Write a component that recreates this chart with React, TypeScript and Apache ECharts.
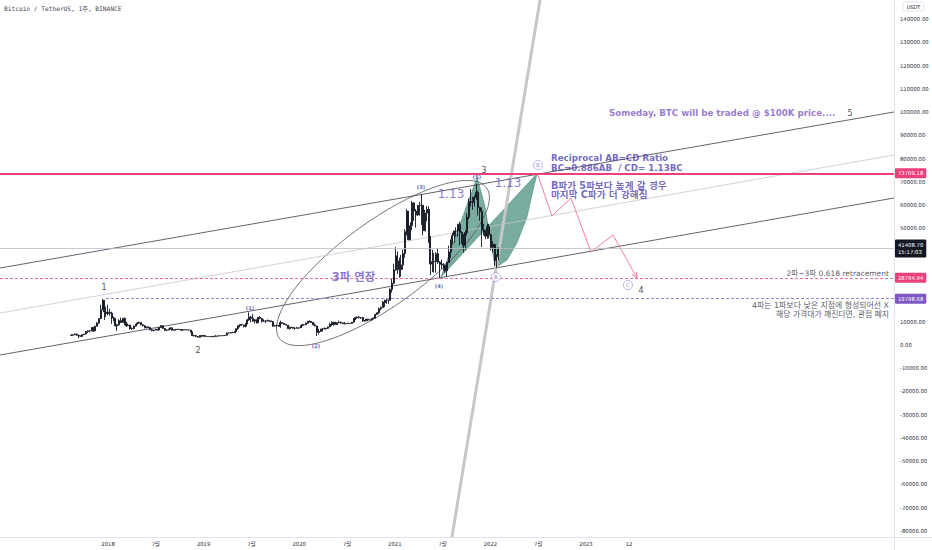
import React, { useEffect, useRef } from 'react';
import * as echarts from 'echarts';

const FONT = "'DejaVu Sans', 'Noto Sans CJK KR', sans-serif";
const MONO = "'DejaVu Sans Mono', 'Noto Sans CJK KR', monospace";

// ---------- axes ----------
const X_MIN = 2016.87;
const X_MAX = 2026.222;
const Y_MIN = -82578;
const Y_MAX = 148165;
const X_TICK_VALUES = [2018, 2018.5, 2019, 2019.5, 2020, 2020.5, 2021, 2021.5, 2022, 2022.5, 2023, 2023.45];
const X_TICK_LABELS = ['2018', '7월', '2019', '7월', '2020', '7월', '2021', '7월', '2022', '7월', '2023', '12'];
// 40000 and 20000 are hidden behind the price boxes in the reference
const Y_TICK_VALUES = [
  -80000, -70000, -60000, -50000, -40000, -30000, -20000, -10000, 0, 10000, 30000,
  50000, 60000, 70000, 80000, 90000, 100000, 110000, 120000, 130000, 140000,
];

// ---------- weekly BTCUSDT candles (thousands of USDT), first week starts 2017-08-14 ----------
const FIRST_WEEK_UTC = Date.UTC(2017, 7, 14);
const FIRST_OPEN_K = 4.26;
const CLOSE_K = [
  // 2017
  4.09, 4.31, 4.59, 4.10, 3.70, 3.63, 4.38, 4.61, 5.71, 6.01, 5.93, 7.36, 5.95, 8.00, 9.35, 11.25, 15.17, 19.10, 14.10, 13.40,
  // 2018
  14.00, 13.60, 11.50, 11.40, 8.20, 8.60, 10.40, 9.60, 11.40, 9.50, 8.20, 8.50, 6.90, 7.00, 8.00, 8.90, 9.30, 9.60,
  8.60, 8.20, 7.35, 7.70, 7.50, 6.45, 6.15, 6.35, 6.75, 6.35, 7.40, 8.20, 7.00, 6.30, 6.40, 6.70, 7.30, 6.25, 6.50,
  6.70, 6.60, 6.55, 6.30, 6.45, 6.40, 6.40, 6.35, 5.60, 3.95, 4.00, 3.55, 3.25, 4.00, 3.70, 4.05,
  // 2019
  3.60, 3.55, 3.53, 3.41, 3.65, 3.60, 3.75, 3.85, 3.90, 3.95, 3.98, 4.10, 5.05, 5.05, 5.30, 5.20, 5.75, 6.95, 8.20,
  8.70, 8.55, 7.95, 8.90, 10.70, 11.90, 11.30, 10.20, 10.75, 9.50, 11.80, 11.30, 10.20, 10.15, 10.30, 10.40, 10.30,
  10.00, 8.05, 8.20, 8.30, 7.95, 9.55, 9.20, 8.80, 8.50, 7.00, 7.40, 7.50, 7.10, 7.15, 7.25, 7.35,
  // 2020
  8.10, 8.65, 8.60, 9.30, 10.15, 9.90, 9.65, 8.55, 8.05, 5.35, 5.80, 5.90, 6.80, 6.90, 7.10, 7.70, 8.90, 8.70, 9.70,
  8.70, 9.45, 9.65, 9.35, 9.30, 9.00, 9.05, 9.25, 9.18, 9.70, 11.10, 11.70, 11.90, 11.65, 11.70, 10.25, 10.35, 11.10,
  10.75, 10.65, 11.40, 11.50, 13.00, 13.75, 15.50, 16.05, 18.40, 18.20, 19.15, 19.15, 23.80, 26.50, 32.20,
  // 2021
  38.20, 36.00, 32.30, 34.30, 39.25, 48.60, 57.40, 45.20, 51.20, 61.00, 57.50, 55.80, 59.00, 59.90, 60.00, 49.00,
  56.60, 58.20, 46.40, 34.70, 35.70, 35.80, 39.10, 35.50, 34.70, 34.70, 34.25, 31.80, 35.40, 39.90, 44.60, 47.00,
  48.90, 48.90, 51.80, 48.30, 47.30, 42.70, 48.20, 54.90, 61.50, 61.30, 61.30, 63.30, 65.50, 59.00, 57.30, 49.40,
  48.40, 46.70, 50.80, 47.30,
  // 2022
  41.90, 43.10, 36.30, 37.90, 41.41,
];
const HIGH_K = [
  // 2017
  4.49, 4.45, 4.94, 4.79, 4.40, 4.10, 4.41, 4.65, 5.86, 6.15, 6.17, 7.60, 7.80, 8.10, 9.70, 11.50, 17.20, 19.80, 19.20, 16.50,
  // 2018
  17.25, 15.50, 14.20, 12.20, 11.50, 9.00, 10.95, 11.70, 11.50, 11.70, 9.90, 9.20, 8.60, 7.50, 8.25, 8.95, 9.75, 9.99,
  9.70, 8.90, 8.40, 7.80, 7.80, 7.60, 6.85, 6.50, 6.90, 6.80, 7.60, 8.50, 8.30, 7.20, 6.60, 6.90, 7.40, 7.40, 6.60,
  6.80, 6.80, 6.70, 6.70, 6.75, 6.60, 6.55, 6.60, 6.35, 5.60, 4.40, 4.20, 3.60, 4.20, 4.20, 4.10,
  // 2019
  4.10, 3.75, 3.65, 3.55, 3.70, 3.70, 4.20, 3.95, 3.95, 4.05, 4.05, 4.15, 5.35, 5.30, 5.35, 5.65, 5.90, 7.05, 8.40,
  8.90, 9.07, 8.60, 9.40, 11.20, 13.97, 12.40, 13.20, 11.10, 10.90, 11.90, 12.35, 11.50, 10.95, 10.60, 10.90, 10.45,
  10.30, 10.10, 8.50, 8.80, 8.40, 10.37, 9.60, 9.50, 9.00, 8.50, 7.85, 7.80, 7.60, 7.50, 7.70, 7.50,
  // 2020
  8.45, 9.00, 8.80, 9.60, 10.15, 10.50, 10.25, 9.90, 9.20, 8.20, 6.90, 6.95, 7.20, 7.45, 7.30, 7.80, 9.45, 10.05, 9.90,
  9.90, 9.75, 10.40, 9.95, 9.60, 9.80, 9.25, 9.45, 9.35, 9.85, 11.40, 12.10, 12.10, 12.45, 11.75, 12.05, 10.60, 11.20,
  11.00, 10.95, 11.50, 11.75, 13.35, 14.05, 15.95, 16.40, 18.80, 19.40, 19.90, 19.40, 24.30, 28.40, 34.80,
  // 2021
  41.95, 40.10, 37.45, 38.60, 40.95, 49.70, 58.35, 57.55, 52.65, 61.85, 60.60, 58.40, 60.20, 61.40, 64.85, 57.20,
  58.00, 59.60, 59.50, 46.70, 40.80, 39.50, 39.80, 41.30, 36.00, 36.60, 35.10, 34.50, 35.40, 42.60, 45.30, 48.15,
  49.00, 50.50, 52.00, 52.90, 48.85, 47.50, 49.20, 56.60, 62.90, 67.00, 63.70, 64.30, 69.00, 66.30, 59.30, 59.00,
  51.95, 49.50, 52.10, 52.00,
  // 2022
  47.60, 44.50, 43.50, 38.90, 41.95,
];
const LOW_K = [
  // 2017
  3.85, 3.90, 4.28, 3.90, 2.82, 3.50, 3.60, 4.15, 4.55, 5.10, 5.40, 5.90, 5.50, 5.95, 7.90, 8.90, 11.10, 14.90, 10.70, 12.00,
  // 2018
  12.75, 12.50, 9.03, 10.10, 7.80, 6.00, 8.20, 9.35, 9.40, 8.40, 7.70, 8.00, 6.60, 6.45, 6.60, 7.85, 8.70, 9.10,
  8.35, 7.90, 7.05, 7.10, 7.35, 6.30, 5.80, 5.78, 6.30, 6.10, 6.30, 7.40, 6.90, 6.00, 5.88, 6.20, 6.70, 6.10, 6.20,
  6.10, 6.40, 6.45, 6.00, 6.25, 6.35, 6.25, 6.30, 5.30, 3.80, 3.50, 3.40, 3.16, 3.20, 3.55, 3.65,
  // 2019
  3.50, 3.48, 3.48, 3.35, 3.38, 3.55, 3.60, 3.70, 3.70, 3.80, 3.95, 3.95, 4.10, 4.90, 5.00, 5.00, 5.20, 5.60, 6.40,
  7.50, 8.30, 7.45, 7.50, 8.90, 10.30, 9.65, 9.90, 9.10, 9.10, 9.40, 11.00, 9.50, 9.75, 9.35, 10.10, 9.95,
  9.70, 7.70, 7.80, 7.80, 7.90, 7.30, 8.90, 8.60, 8.40, 6.80, 6.50, 7.20, 7.00, 6.45, 7.10, 6.85,
  // 2020
  7.30, 8.10, 8.25, 8.55, 9.10, 9.60, 9.40, 8.40, 8.00, 3.78, 4.50, 5.70, 5.85, 6.75, 6.50, 6.80, 7.60, 8.10, 8.20,
  8.60, 8.60, 9.30, 9.10, 9.20, 8.80, 8.95, 9.05, 9.10, 9.15, 9.65, 10.60, 11.15, 11.30, 11.10, 9.90, 9.90, 10.20,
  10.15, 10.40, 10.55, 11.20, 11.40, 12.80, 13.25, 14.85, 15.95, 16.20, 17.60, 17.60, 19.00, 22.40, 26.00,
  // 2021
  31.80, 30.40, 28.85, 29.25, 32.30, 37.40, 47.00, 44.90, 45.00, 49.30, 53.20, 50.40, 55.30, 55.50, 51.50, 47.10,
  48.80, 53.00, 43.80, 30.00, 31.30, 31.00, 31.00, 34.80, 28.80, 32.70, 32.00, 31.00, 29.30, 35.20, 37.30, 43.00,
  43.80, 46.40, 46.50, 42.80, 43.40, 39.60, 40.80, 47.00, 53.90, 59.50, 58.00, 59.40, 62.30, 55.60, 53.30, 42.00,
  47.00, 45.50, 45.60, 45.70,
  // 2022
  40.60, 39.65, 34.00, 32.95, 36.25,
];

// ---------- horizontal levels ----------
const RESISTANCE_LEVEL = 73709.18;
const CURRENT_PRICE = 41408.7;
const COUNTDOWN = '15:17:03';
const RETRACE_LEVEL = 28794.94;
const WAVE1_LEVEL = 19798.68;
const WAVE1_LEVEL_START_YEAR = 2017.979;

// ---------- trend channel (year, price pairs) ----------
const CHANNEL_YEARS = [X_MIN, X_MAX];
const CHANNEL_UPPER = [33000, 100035];
const CHANNEL_MIDDLE = [13660, 81560];
const CHANNEL_LOWER = [-4380, 63080];
const STEEP_LINE_YEARS = [2021.598, 2022.519];
const STEEP_LINE_PRICES = [Y_MIN, Y_MAX];

// ---------- ellipse round wave 3 (major axis ends and one minor-axis end) ----------
const ELLIPSE_AXIS_YEARS = [2019.793, 2021.959];
const ELLIPSE_AXIS_PRICES = [2819, 67480];
const ELLIPSE_WIDTH_YEAR = 2021.135;
const ELLIPSE_WIDTH_PRICE = 20548;

// ---------- AB=CD pattern fill ----------
const PATTERN_YEARS = [2021.483, 2021.86, 2021.94, 2022.05, 2022.174, 2022.278, 2022.383, 2022.446, 2022.49];
const PATTERN_PRICES = [29130, 72000, 60070, 33000, 36440, 43740, 54920, 66520, 73709];

// ---------- projected zigzag ----------
const ZIGZAG_YEARS = [2022.49, 2022.644, 2022.843, 2023.052, 2023.282, 2023.533];
const ZIGZAG_PRICES = [73709, 55345, 63080, 39876, 47181, 28795];

// ---------- labels ----------
const WAVE_TEXTS = ['1', '2', '3', '4', '5'];
const WAVE_YEARS = [2017.958, 2018.941, 2021.933, 2023.575, 2025.761];
const WAVE_PRICES = [24837, -2234, 75112, 23548, 99604];

const SUBWAVE_TEXTS = ['(1)', '(2)', '(3)', '(4)', '(5)'];
const SUBWAVE_YEARS = [2019.485, 2020.175, 2021.274, 2021.462, 2021.86];
const SUBWAVE_PRICES = [15813, -516, 67807, 25266, 72104];

const POINT_TEXTS = ['B', 'A', 'C'];
const POINT_YEARS = [2022.498, 2022.058, 2023.439];
const POINT_PRICES = [77260, 29134, 25696];

const NOTE_TEXTS = [
  'Someday, BTC will be traded @ $100K price....',
  'Reciprocal AB=CD Ratio',
  'BC=0.886AB  / CD= 1.13BC',
  'B파가 5파보다 높게 갈 경우',
  '마지막 C파가 더 강해짐',
  '1.13',
  '1.13',
  '3파 연장',
  '2파~3파 0.618 retracement',
  '4파는 1파보다 낮은 지점에 형성되어선 X',
  '해당 가격대가 깨진다면, 관점 폐지',
];
const NOTE_YEARS = [2023.24, 2022.634, 2022.634, 2022.634, 2022.634, 2021.588, 2022.184, 2020.568, 2026.169, 2026.169, 2026.169];
const NOTE_PRICES = [99604, 80268, 76186, 68666, 64584, 64799, 69527, 29134, 30637, 16887, 13020];

const NOTE_STYLES: any[] = [
  { position: 'right', fontSize: 8.7, color: '#7e57c2', fontWeight: 'bold' },
  { position: 'right', fontSize: 8.7, color: '#4f43ad', fontWeight: 'bold' },
  { position: 'right', fontSize: 8.7, color: '#4f43ad', fontWeight: 'bold' },
  { position: 'right', fontSize: 9.6, color: '#4f43ad', fontWeight: 'bold' },
  { position: 'right', fontSize: 9.6, color: '#4f43ad', fontWeight: 'bold' },
  { position: 'inside', fontSize: 12, color: '#7052c6' },
  { position: 'inside', fontSize: 12, color: '#7052c6' },
  { position: 'inside', fontSize: 11.5, color: '#6c55c9', fontWeight: 'bold' },
  { position: 'left', fontSize: 7.5, color: '#2a2e39' },
  { position: 'left', fontSize: 7.9, color: '#2a2e39' },
  { position: 'left', fontSize: 7.8, color: '#2a2e39' },
];

function weekYear(i: number): number {
  const t = FIRST_WEEK_UTC + i * 7 * 86400000;
  const y = new Date(t).getUTCFullYear();
  const s = Date.UTC(y, 0, 1);
  const e = Date.UTC(y + 1, 0, 1);
  return y + (t - s) / (e - s);
}

function buildOption(): any {
  const candles = CLOSE_K.map((c, i) => [
    weekYear(i),
    (i === 0 ? FIRST_OPEN_K : CLOSE_K[i - 1]) * 1000,
    c * 1000,
    LOW_K[i] * 1000,
    HIGH_K[i] * 1000,
  ]);

  const lineSeries = (prices: number[], color: string, width: number, extra: any = {}) => ({
    type: 'line',
    data: CHANNEL_YEARS.map((x, i) => [x, prices[i]]),
    showSymbol: false,
    symbol: 'none',
    silent: true,
    clip: true,
    z: 2,
    lineStyle: { color, width },
    ...extra,
  });

  const levelLabel = {
    show: true,
    position: 'end',
    distance: 1,
    color: '#ffffff',
    fontSize: 5.3,
    fontFamily: FONT,
    padding: [1.5, 3, 1.5, 3],
    borderRadius: 1,
    lineHeight: 7,
  };

  const markLine = {
    symbol: ['none', 'none'],
    silent: true,
    animation: false,
    label: levelLabel,
    data: [
      {
        yAxis: CURRENT_PRICE,
        lineStyle: { color: '#b8bcc6', width: 0.8, type: 'solid' },
        label: {
          ...levelLabel,
          padding: [2, 3, 2, 3],
          formatter: CURRENT_PRICE.toFixed(2) + '\n' + COUNTDOWN,
          backgroundColor: '#131722',
        },
      },
      {
        yAxis: RETRACE_LEVEL,
        lineStyle: { color: '#f06292', width: 0.9, type: [3, 2] },
        label: { ...levelLabel, formatter: RETRACE_LEVEL.toFixed(2), backgroundColor: '#ec407a' },
      },
      [
        {
          coord: [WAVE1_LEVEL_START_YEAR, WAVE1_LEVEL],
          lineStyle: { color: '#9575cd', width: 0.9, type: [3, 2] },
          label: { ...levelLabel, formatter: WAVE1_LEVEL.toFixed(2), backgroundColor: '#7e57c2' },
        },
        { coord: [X_MAX, WAVE1_LEVEL] },
      ],
      {
        yAxis: RESISTANCE_LEVEL,
        lineStyle: { color: '#ec407a', width: 1.8, type: 'solid' },
        label: { ...levelLabel, formatter: RESISTANCE_LEVEL.toFixed(2), backgroundColor: '#ec407a' },
      },
    ],
  };

  const textSeries = (texts: string[], years: number[], prices: number[], label: any, extra: any = {}) => ({
    type: 'scatter',
    silent: true,
    z: 6,
    symbolSize: 0,
    itemStyle: { color: 'transparent' },
    label: { show: true, position: 'inside', fontFamily: FONT, ...label },
    data: texts.map((t, i) => ({ value: [years[i], prices[i]], label: { formatter: t } })),
    ...extra,
  });

  return {
    animation: false,
    backgroundColor: '#ffffff',
    grid: { left: 0, right: 38, top: 0, bottom: 13, outerBoundsMode: 'none' },
    xAxis: {
      type: 'value',
      min: X_MIN,
      max: X_MAX,
      axisLine: { show: false },
      axisTick: { show: false },
      splitLine: { show: false },
      axisLabel: {
        customValues: X_TICK_VALUES,
        formatter: (v: number) => {
          const idx = X_TICK_VALUES.findIndex((t) => Math.abs(t - v) < 1e-6);
          return idx >= 0 ? X_TICK_LABELS[idx] : '';
        },
        fontSize: 5.3,
        color: '#2a2e39',
        margin: 4,
        fontFamily: FONT,
      },
    },
    yAxis: {
      type: 'value',
      position: 'right',
      min: Y_MIN,
      max: Y_MAX,
      axisLine: { show: false },
      axisTick: { show: false },
      splitLine: { show: false },
      axisLabel: {
        customValues: Y_TICK_VALUES,
        formatter: (v: number) => v.toFixed(2),
        fontSize: 5.3,
        color: '#2a2e39',
        margin: 6,
        fontFamily: FONT,
      },
    },
    graphic: [
      {
        type: 'text',
        left: 4,
        top: 5,
        silent: true,
        style: { text: 'Bitcoin / TetherUS, 1주, BINANCE', fontSize: 6.2, fontFamily: MONO, fill: '#434651' },
      },
      {
        type: 'rect',
        silent: true,
        shape: { x: 903, y: 2, width: 21, height: 9, r: 2 },
        style: { fill: '#ffffff', stroke: '#d1d4dc', lineWidth: 0.6 },
      },
      {
        type: 'text',
        silent: true,
        x: 913.5,
        y: 6.5,
        style: { text: 'USDT', fontSize: 5, fill: '#131722', align: 'center', verticalAlign: 'middle', fontFamily: FONT },
      },
      { type: 'line', silent: true, shape: { x1: 894.5, y1: 0, x2: 894.5, y2: 550 }, style: { stroke: '#e0e3eb', lineWidth: 1 } },
      { type: 'line', silent: true, shape: { x1: 0, y1: 537.5, x2: 932, y2: 537.5 }, style: { stroke: '#e0e3eb', lineWidth: 1 } },
    ],
    series: [
      {
        type: 'custom',
        silent: true,
        clip: true,
        z: 1,
        data: [[X_MIN, 0]],
        renderItem: (_p: any, api: any) => {
          const pts = PATTERN_YEARS.map((x, i) => api.coord([x, PATTERN_PRICES[i]]));
          return {
            type: 'polygon',
            shape: { points: pts },
            style: { fill: 'rgba(38,120,100,0.62)', stroke: 'rgba(38,120,100,0.75)', lineWidth: 0.6 },
          };
        },
      },
      lineSeries(CHANNEL_UPPER, '#50535e', 0.9),
      lineSeries(CHANNEL_MIDDLE, '#c4c6cc', 0.8),
      lineSeries(CHANNEL_LOWER, '#50535e', 0.9, { markLine }),
      {
        type: 'line',
        data: STEEP_LINE_YEARS.map((x, i) => [x, STEEP_LINE_PRICES[i]]),
        showSymbol: false,
        symbol: 'none',
        silent: true,
        z: 2,
        lineStyle: { color: '#c7c7c7', width: 3 },
      },
      {
        type: 'custom',
        silent: true,
        clip: true,
        z: 2,
        data: [[X_MIN, 0]],
        renderItem: (_p: any, api: any) => {
          const p1 = api.coord([ELLIPSE_AXIS_YEARS[0], ELLIPSE_AXIS_PRICES[0]]);
          const p2 = api.coord([ELLIPSE_AXIS_YEARS[1], ELLIPSE_AXIS_PRICES[1]]);
          const pm = api.coord([ELLIPSE_WIDTH_YEAR, ELLIPSE_WIDTH_PRICE]);
          const cx = (p1[0] + p2[0]) / 2;
          const cy = (p1[1] + p2[1]) / 2;
          const dx = p2[0] - p1[0];
          const dy = p2[1] - p1[1];
          const len = Math.hypot(dx, dy);
          const a = len / 2;
          const ux = dx / len;
          const uy = dy / len;
          const b = Math.abs((pm[0] - cx) * -uy + (pm[1] - cy) * ux);
          const pts: number[][] = [];
          for (let k = 0; k <= 160; k++) {
            const t = (k / 160) * Math.PI * 2;
            const ca = a * Math.cos(t);
            const sb = b * Math.sin(t);
            pts.push([cx + ca * ux - sb * uy, cy + ca * uy + sb * ux]);
          }
          return { type: 'polyline', shape: { points: pts }, style: { fill: 'none', stroke: '#50535e', lineWidth: 0.8 } };
        },
      },
      {
        type: 'candlestick',
        data: candles,
        encode: { x: 0, y: [1, 2, 3, 4] },
        barWidth: 1.5,
        silent: true,
        z: 3,
        itemStyle: {
          color: '#131722',
          color0: '#131722',
          borderColor: '#131722',
          borderColor0: '#131722',
          borderWidth: 0.9,
        },
      },
      {
        type: 'custom',
        silent: true,
        clip: true,
        z: 3,
        data: [[X_MIN, 0]],
        renderItem: (_p: any, api: any) => {
          const pts = ZIGZAG_YEARS.map((x, i) => api.coord([x, ZIGZAG_PRICES[i]]));
          const last = pts[pts.length - 1];
          const prev = pts[pts.length - 2];
          const ang = Math.atan2(last[1] - prev[1], last[0] - prev[0]);
          const L = 6;
          const a1 = [last[0] - L * Math.cos(ang - 0.45), last[1] - L * Math.sin(ang - 0.45)];
          const a2 = [last[0] - L * Math.cos(ang + 0.45), last[1] - L * Math.sin(ang + 0.45)];
          const stroke = '#f57f9f';
          return {
            type: 'group',
            children: [
              { type: 'polyline', shape: { points: pts }, style: { fill: 'none', stroke, lineWidth: 1 } },
              { type: 'polyline', shape: { points: [a1, last, a2] }, style: { fill: 'none', stroke, lineWidth: 1 } },
            ],
          };
        },
      },
      textSeries(WAVE_TEXTS, WAVE_YEARS, WAVE_PRICES, { fontSize: 8, color: '#131722' }),
      textSeries(SUBWAVE_TEXTS, SUBWAVE_YEARS, SUBWAVE_PRICES, { fontSize: 5.2, color: '#3c3c9e', fontWeight: 'bold' }),
      textSeries(POINT_TEXTS, POINT_YEARS, POINT_PRICES, { fontSize: 5.5, color: '#7b66d0' }, {
        symbol: 'circle',
        symbolSize: 9,
        itemStyle: { color: '#ffffff', borderColor: '#9b8be0', borderWidth: 0.8 },
      }),
      {
        type: 'scatter',
        silent: true,
        z: 6,
        symbolSize: 0,
        itemStyle: { color: 'transparent' },
        data: NOTE_TEXTS.map((t, i) => ({
          value: [NOTE_YEARS[i], NOTE_PRICES[i]],
          label: { show: true, distance: 0, fontFamily: FONT, formatter: t, ...NOTE_STYLES[i] },
        })),
      },
    ],
  };
}

export default function App() {
  const ref = useRef<HTMLDivElement>(null);
  useEffect(() => {
    document.body.style.margin = '0';
    const chart = echarts.init(ref.current as HTMLDivElement, null, { renderer: 'svg' });
    chart.setOption(buildOption());
    return () => chart.dispose();
  }, []);
  return <div ref={ref} style={{ width: 932, height: 550 }} />;
}
